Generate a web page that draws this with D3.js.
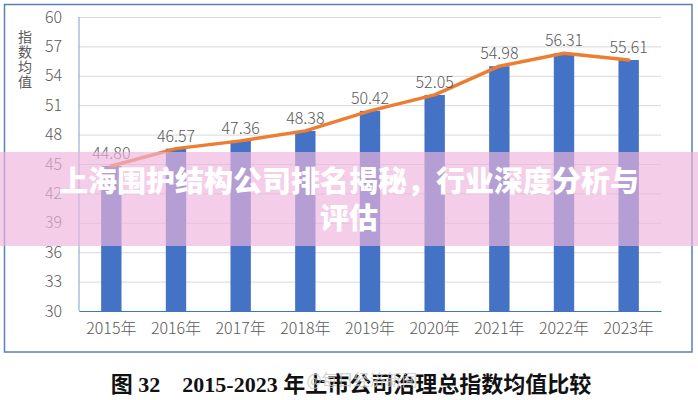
<!DOCTYPE html>
<html><head><meta charset="utf-8">
<script src="https://cdn.jsdelivr.net/npm/d3@7"></script>
<style>
html,body{margin:0;padding:0;background:#fff;}
svg{display:block;}
</style></head>
<body>
<svg id="chart" width="698" height="400"></svg>
<script>
const categories = ["2015年","2016年","2017年","2018年","2019年","2020年","2021年","2022年","2023年"];
const values = [44.80, 46.57, 47.36, 48.38, 50.42, 52.05, 54.98, 56.31, 55.61];
const yTicks = [30,33,36,39,42,45,48,51,54,57,60];
const yTitle = "指数均值";
const caption = "图 32    2015-2023 年上市公司治理总指数均值比较";
const watermark = "@每日经济新闻";
const overlayLines = ["上海围护结构公司排名揭秘，行业深度分析与", "评估"];

(function(){
const svg = d3.select("#chart");
const pLeft = 79, pRight = 661, pTop = 17, pBottom = 311;
const font = "'Noto Sans CJK SC','Microsoft YaHei',sans-serif";
const grey = "#595959";

// outer frame
svg.append("rect").attr("x",4.5).attr("y",4.5).attr("width",687.5).attr("height",347.5)
  .attr("fill","#fff").attr("stroke","#5b7fb6").attr("stroke-width",1.5);

const x = d3.scaleBand().domain(categories).range([pLeft, pRight]).padding(0);
const y = d3.scaleLinear().domain([30,60]).range([pBottom, pTop]);
const bw = x.bandwidth();
const barW = bw*0.315;

// gridlines
const grid = svg.append("g").attr("transform",`translate(${pLeft},0)`)
  .call(d3.axisLeft(y).tickValues(yTicks).tickSize(-(pRight-pLeft)).tickFormat(""));
grid.select(".domain").remove();
grid.selectAll(".tick line").attr("stroke","#d9d9d9").attr("stroke-width",1);

// y axis labels
const ya = svg.append("g").attr("transform",`translate(${pLeft},0)`)
  .call(d3.axisLeft(y).tickValues(yTicks).tickSize(0).tickPadding(17).tickFormat(d3.format("d")));
ya.select(".domain").remove();
ya.selectAll("text").attr("fill",grey).style("font-family",font).style("font-size","16px").style("font-weight","300");

// bars
svg.append("g").selectAll("rect").data(values).join("rect")
  .attr("x",(d,i)=>x(categories[i])+(bw-barW)/2)
  .attr("width",barW)
  .attr("y",d=>y(d))
  .attr("height",d=>y(30)-y(d))
  .attr("fill","#4472c4");

// axis lines
svg.append("line").attr("x1",pLeft).attr("x2",pLeft).attr("y1",pTop).attr("y2",pBottom)
  .attr("stroke","#7f9fd0").attr("stroke-width",1);
const xa = svg.append("g").attr("transform",`translate(0,${pBottom})`)
  .call(d3.axisBottom(x).tickSize(0).tickPadding(12));
xa.select(".domain").attr("stroke","#4472c4").attr("stroke-width",1.2);
xa.selectAll("text").attr("fill",grey).style("font-family",font).style("font-size","16px").style("font-weight","300");

// line
const line = d3.line().x((d,i)=>x(categories[i])+bw/2).y(d=>y(d));
svg.append("path").datum(values).attr("d",line).attr("fill","none")
  .attr("stroke","#ed7d31").attr("stroke-width",3.5).attr("stroke-linejoin","round").attr("stroke-linecap","round");

// data labels
svg.append("g").selectAll("text").data(values).join("text")
  .attr("x",(d,i)=>x(categories[i])+bw/2)
  .attr("y",d=>y(d)-7)
  .attr("text-anchor","middle")
  .attr("fill",grey).style("font-family",font).style("font-size","16px").style("font-weight","300")
  .text(d=>d.toFixed(2));

// y title (vertical)
svg.append("text")
  .attr("x",25).attr("y",30)
  .style("writing-mode","vertical-rl").style("text-orientation","upright")
  .style("letter-spacing","1px")
  .attr("fill",grey).style("font-family",font).style("font-size","14px")
  .text(yTitle);

// caption
svg.append("text").attr("x",351).attr("y",392).attr("text-anchor","middle")
  .attr("xml:space","preserve").style("white-space","pre")
  .style("font-family","'Liberation Serif','Noto Sans CJK SC',serif").style("font-weight","bold").style("font-size","22px")
  .attr("fill","#111").text(caption);
svg.append("text").attr("x",362).attr("y",386).attr("text-anchor","middle")
  .style("font-family",font).style("font-size","16px").attr("fill","#c8c8c8").attr("opacity",0.8)
  .text(watermark);

// overlay band
svg.append("rect").attr("x",0).attr("y",152).attr("width",698).attr("height",94)
  .attr("fill","rgb(238,180,220)").attr("opacity",0.66);
svg.append("g").selectAll("text").data(overlayLines).join("text")
  .attr("x",349).attr("y",(d,i)=>192+i*37)
  .attr("text-anchor","middle").attr("fill","#fff")
  .style("font-family",font).style("font-weight","900").style("font-size","29px")
  .text(d=>d);
})();
</script>
</body></html>
